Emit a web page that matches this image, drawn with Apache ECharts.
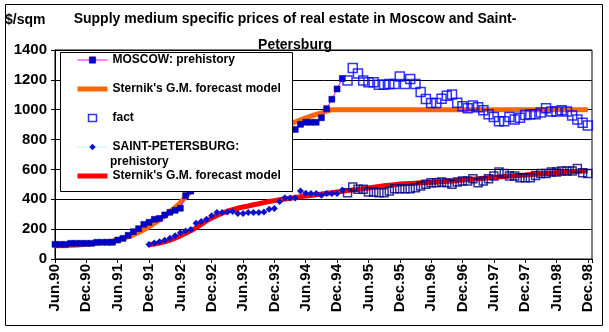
<!DOCTYPE html>
<html><head><meta charset="utf-8">
<script src="https://cdn.jsdelivr.net/npm/echarts@6/dist/echarts.min.js"></script>
<style>html,body{margin:0;padding:0;background:#fff}#c{width:609px;height:332px}</style>
</head><body><div id="c"></div>
<script>
// x positions are month indexes: 0 = Jun.90, 102 = Dec.98
const xTickLabels = ['Jun.90','Dec.90','Jun.91','Dec.91','Jun.92','Dec.92','Jun.93','Dec.93','Jun.94','Dec.94','Jun.95','Dec.95','Jun.96','Dec.96','Jun.97','Dec.97','Jun.98','Dec.98'];

const moscowPrehistoryStart = 0;
const moscowPrehistory = [98,98,98,105,105,105,105,105,112,112,112,112,127,138,159,183,203,232,246,266,272,295,313,326,340,425,
  455,485,515,545,575,605,635,660,685,710,735,755,775,795,815,830,845,855,862,866,
  868,902,916,916,916,946,1007,1070,1139,1209];

const moscowForecastStart = 0;
const moscowForecast = [88,88,89,90,92,95,98,102,106,110,115,121,128,137,148,162,178,196,216,238,262,288,316,345,378,415,
  455,490,525,558,590,620,648,676,702,727,750,772,793,812,830,847,862,878,892,905,
  918,932,945,958,968,978,990,
  1000,1000,1000,1000,1000,1000,1000,1000,1000,1000,1000,1000,1000,1000,1000,1000,1000,1000,1000,1000,1000,1000,1000,1000,1000,
  1000,1000,1000,1000,1000,1000,1000,1000,1000,1000,1000,1000,1000,1000,1000,1000,1000,1000,1000,1000,1000,1000,1000,1000,1000];

const moscowFactStart = 56;
const moscowFact = [1195,1279,1242,1195,1184,1184,1167,1167,1172,1172,1223,1172,1205,1172,1118,1072,1045,1045,1074,1093,1102,1046,1023,1009,1028,1016,997,969,951,923,923,951,935,946,965,969,969,981,1009,988,988,997,988,962,935,912,895];

const spbPrehistoryStart = 18;
const spbPrehistory = [97,107,115,125,139,155,176,187,198,239,251,267,289,311,311,315,318,305,305,311,311,311,315,333,338,385,411,409,409,455,440,438,438,427,438,438,438,462];

const spbForecastStart = 18;
const spbForecast = [95,100,107,115,127,140,155,172,189,210,232,255,275,292,307,320,330,340,348,355,363,370,378,385,391,397,402,407,412,417,422,426,431,435,440,444,449,453,458,462,466,471,476,481,486,490,494,498,502,504,506,508,510,511,513,515,518,520,523,526,529,532,535,538,541,544,547,550,553,556,558,561,563,566,568,571,573,575,578,580,582,585,587,589,590];

const spbFactStart = 56;
const spbFact = [444,482,467,467,449,449,444,444,456,471,471,471,471,478,489,500,511,511,515,511,500,515,522,522,538,511,522,538,556,582,573,556,556,545,545,545,560,573,573,582,582,589,589,589,607,578,573];

const nameMosPre = 'MOSCOW: prehistory';
const nameMosFc = "Sternik's G.M. forecast model";
const nameFact = 'fact';
const nameSpbPre = 'SAINT-PETERSBURG: prehistory';
const nameSpbFc = "Sternik's G.M. forecast model ";

function pts(start, arr) { return arr.map((v, i) => [start + i, v]); }

const FONT = 'Liberation Sans';
const chart = echarts.init(document.getElementById('c'), null, {renderer: 'canvas'});
chart.setOption({
  animation: false,
  backgroundColor: '#fff',
  title: [
    {text: 'Supply medium specific prices of real estate in Moscow and Saint-\nPetersburg', left: 295, top: 6, textAlign: 'center', padding: 0,
     textStyle: {fontFamily: FONT, fontWeight: 'bold', fontSize: 14, lineHeight: 26, color: '#000'}},
    {text: '$/sqm', left: 5, top: 13, padding: 0,
     textStyle: {fontFamily: FONT, fontWeight: 'bold', fontSize: 14, color: '#000'}}
  ],
  grid: {left: 55, right: 17, top: 50, bottom: 73, show: true, borderColor: '#000', borderWidth: 1, backgroundColor: '#fff'},
  xAxis: {
    type: 'value', min: 0, max: 102.8, interval: 6,
    axisLine: {lineStyle: {color: '#000', width: 1}},
    axisTick: {show: true, length: 4, lineStyle: {color: '#000'}},
    splitLine: {show: false},
    axisLabel: {rotate: 90, margin: 5, color: '#000', fontFamily: FONT, fontWeight: 'bold', fontSize: 15,
      formatter: v => { const k = Math.round(v / 6); return (Math.abs(v - k * 6) < 1e-6 && k < xTickLabels.length) ? xTickLabels[k] : ''; }}
  },
  yAxis: {
    type: 'value', min: 0, max: 1400, interval: 200,
    axisLine: {show: true, lineStyle: {color: '#000', width: 1}},
    axisTick: {show: true, length: 4, lineStyle: {color: '#000'}},
    splitLine: {show: true, lineStyle: {color: '#000', width: 1}},
    axisLabel: {margin: 8, color: '#000', fontFamily: FONT, fontWeight: 'bold', fontSize: 15, formatter: v => String(v)}
  },
  legend: {
    orient: 'vertical', left: 75, top: 53, padding: 0, itemWidth: 30, itemHeight: 8, itemGap: 15,
    selectedMode: false, z: 20,
    textStyle: {fontFamily: FONT, fontWeight: 'bold', fontSize: 12, color: '#000', lineHeight: 14},
    formatter: n => n === nameSpbPre ? 'SAINT-PETERSBURG:' : n.trim(),
    data: [
      {name: nameMosPre, lineStyle: {width: 1, color: '#ff00ff'}, itemStyle: {color: '#0000cc', borderColor: '#000080', borderWidth: 0.5}},
      {name: nameMosFc, lineStyle: {width: 5, color: '#ff6600'}, itemStyle: {opacity: 0}},
      {name: nameFact, icon: 'path://M0,0M30,8M11,0.5H19V7.5H11Z', itemStyle: {color: 'rgba(0,0,0,0)', borderColor: '#0000ff', borderWidth: 1.5}},
      {name: nameSpbPre, lineStyle: {width: 1, color: '#66ffff', type: 'dotted'}, itemStyle: {color: '#1010cc', borderWidth: 0}},
      {name: nameSpbFc, lineStyle: {width: 5, color: '#ff0000'}, itemStyle: {opacity: 0}}
    ]
  },
  graphic: [
    {type: 'rect', silent: true, z: 0, shape: {x: 5.5, y: 4.5, width: 597, height: 321}, style: {fill: 'none', stroke: '#000', lineWidth: 1}},
    {type: 'rect', silent: true, z: 10, shape: {x: 60.5, y: 52.5, width: 232, height: 139}, style: {fill: '#fff', stroke: '#000', lineWidth: 1}},
    {type: 'text', silent: true, z: 21, x: 110, y: 162, style: {text: 'prehistory', fontFamily: FONT, fontWeight: 'bold', fontSize: 12, fill: '#000', verticalAlign: 'middle'}}
  ],
  series: [
    {name: nameMosFc, type: 'line', z: 2, data: pts(moscowForecastStart, moscowForecast), showSymbol: false, symbol: 'none',
     lineStyle: {color: '#ff6600', width: 5}, itemStyle: {color: '#ff6600'}},
    {name: nameSpbFc, type: 'line', z: 2, data: pts(spbForecastStart, spbForecast), showSymbol: false, symbol: 'none',
     lineStyle: {color: '#ff0000', width: 5}, itemStyle: {color: '#ff0000'}},
    {name: nameMosPre, type: 'line', z: 3, data: pts(moscowPrehistoryStart, moscowPrehistory), symbol: 'rect', symbolSize: 6,
     lineStyle: {color: '#ff00ff', width: 1}, itemStyle: {color: '#0000cc', borderColor: '#000080', borderWidth: 0.5}},
    {name: nameSpbPre, type: 'line', z: 3, data: pts(spbPrehistoryStart, spbPrehistory), symbol: 'diamond', symbolSize: 7,
     lineStyle: {color: '#66ffff', width: 1, type: 'dotted'}, itemStyle: {color: '#1010cc'}},
    {name: nameFact, type: 'scatter', z: 4, data: pts(moscowFactStart, moscowFact), symbol: 'rect', symbolSize: 9,
     itemStyle: {color: 'rgba(0,0,0,0)', borderColor: '#0000ff', borderWidth: 1.5}},
    {name: nameFact, type: 'scatter', z: 4, data: pts(spbFactStart, spbFact), symbol: 'rect', symbolSize: 8,
     itemStyle: {color: 'rgba(0,0,0,0)', borderColor: '#000080', borderWidth: 1.5}}
  ]
});
</script></body></html>
